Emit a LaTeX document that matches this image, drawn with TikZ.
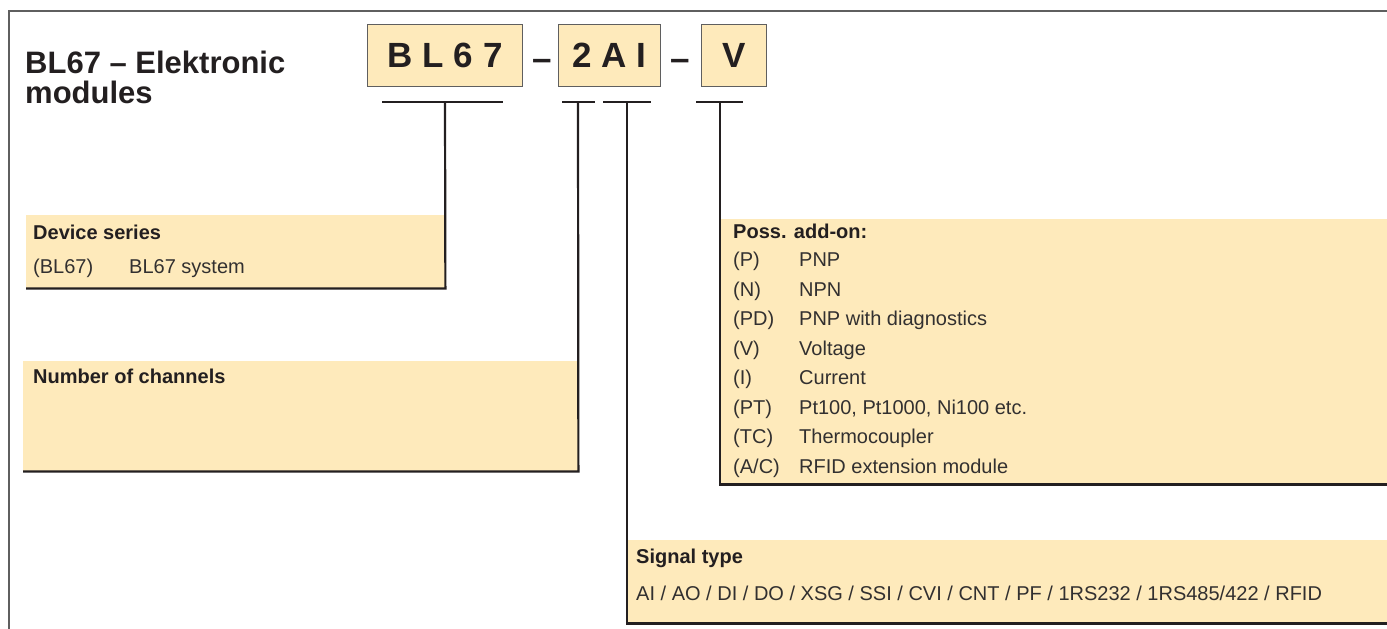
\documentclass[tikz,border=0pt]{standalone}
\usepackage{fontspec}
\setmainfont{Liberation Sans}
\definecolor{cream}{RGB}{254,234,187}
\definecolor{ink}{RGB}{35,31,32}
\definecolor{txtgrey}{RGB}{50,48,48}
\definecolor{framegrey}{RGB}{95,95,95}
\begin{document}
\begin{tikzpicture}[x=1pt,y=-1pt,
  infobox/.style={fill=cream, draw=none, inner sep=0, anchor=north west},
  codebox/.style={fill=cream, draw=framegrey, line width=1.3, inner sep=0, anchor=north west,
    text=ink, font=\fontsize{35}{40}\selectfont\bfseries},
  heading/.style={inner sep=0, anchor=base west, text=ink, font=\fontsize{20}{24}\selectfont\bfseries},
  plain/.style={inner sep=0, anchor=base west, text=txtgrey, font=\fontsize{20}{24}\selectfont},
  titletext/.style={inner sep=0, anchor=base west, text=ink, font=\fontsize{31}{30}\selectfont\bfseries},
  bigdash/.style={inner sep=0, anchor=base, text=ink, font=\fontsize{35}{40}\selectfont\bfseries},
  rule/.style={draw=ink, line width=2},
  edgeline/.style={draw=ink, line width=2.2},
  outer/.style={draw=framegrey, line width=1.5},
]
\useasboundingbox (0,0) rectangle (1387,629);
% outer frame
\draw[outer] (9,629) -- (9,11) -- (1387,11);

% title
\node[titletext] (ti1) at (25,73) {BL67 – Elektronic};
\node[titletext] (ti2) at (25,103) {modules};

% code boxes
\node[codebox, minimum width=155, minimum height=62] (hb1) at (367,24) {B L 6 7};
\node[bigdash] (d1) at (542.5,70) {–};
\node[codebox, minimum width=102, minimum height=62] (hb2) at (558,24) {2 A I};
\node[bigdash] (d2) at (680.5,70) {–};
\node[codebox, minimum width=65, minimum height=62] (hb3) at (701,24) {V};

% underline segments and ticks
\coordinate (u1a) at (382,102); \coordinate (u1b) at (503,102); \coordinate (k1) at (445,102);
\coordinate (u2a) at (562,102); \coordinate (u2b) at (595,102); \coordinate (k2) at (578,102);
\coordinate (u3a) at (603,102); \coordinate (u3b) at (651,102); \coordinate (k3) at (627,102);
\coordinate (u4a) at (696,102); \coordinate (u4b) at (743,102); \coordinate (k4) at (720,102);
\draw[rule] (u1a) -- (u1b);
\draw[rule] (u2a) -- (u2b);
\draw[rule] (u3a) -- (u3b);
\draw[rule] (u4a) -- (u4b);

% info boxes
\node[infobox, minimum width=419, minimum height=73] (ds) at (26,215) {};
\node[infobox, minimum width=555, minimum height=110] (nc) at (23,361) {};
\node[infobox, minimum width=667, minimum height=265] (pa) at (720,219) {};
\node[infobox, minimum width=760, minimum height=83] (st) at (627,540) {};

% connectors + borders
\draw[edgeline] (k1) -- (ds.south east) -- (ds.south west);
\draw[edgeline] (k2) -- (nc.south east) -- (nc.south west);
\draw[edgeline] (k3) -- (st.south west) -- (st.south east);
\draw[edgeline] (k4) -- (pa.south west) -- (pa.south east);

% device series
\node[heading] (dsh) at (33,239) {Device series};
\node[plain] (ds1) at (33,273) {(BL67)};
\node[plain] (ds2) at (129,273) {BL67 system};

% number of channels
\node[heading] (nch) at (33,383) {Number of channels};

% possible add-on
\node[heading] (pah) at (733,238) {Poss. add-on:};
\node[plain] (pa1a) at (733,266.7) {(P)};   \node[plain] (pa1b) at (799,266.7) {PNP};
\node[plain] (pa2a) at (733,296.2) {(N)};   \node[plain] (pa2b) at (799,296.2) {NPN};
\node[plain] (pa3a) at (733,325.7) {(PD)};  \node[plain] (pa3b) at (799,325.7) {PNP with diagnostics};
\node[plain] (pa4a) at (733,355.2) {(V)};   \node[plain] (pa4b) at (799,355.2) {Voltage};
\node[plain] (pa5a) at (733,384.7) {(I)};   \node[plain] (pa5b) at (799,384.7) {Current};
\node[plain] (pa6a) at (733,414.2) {(PT)};  \node[plain] (pa6b) at (799,414.2) {Pt100, Pt1000, Ni100 etc.};
\node[plain] (pa7a) at (733,443.7) {(TC)};  \node[plain] (pa7b) at (799,443.7) {Thermocoupler};
\node[plain] (pa8a) at (733,473.2) {(A/C)}; \node[plain] (pa8b) at (799,473.2) {RFID extension module};

% signal type
\node[heading] (sth) at (636,563) {Signal type};
\node[plain] (st1) at (636,600) {AI / AO / DI / DO / XSG / SSI / CVI / CNT / PF / 1RS232 / 1RS485/422 / RFID};
\end{tikzpicture}
\end{document}
